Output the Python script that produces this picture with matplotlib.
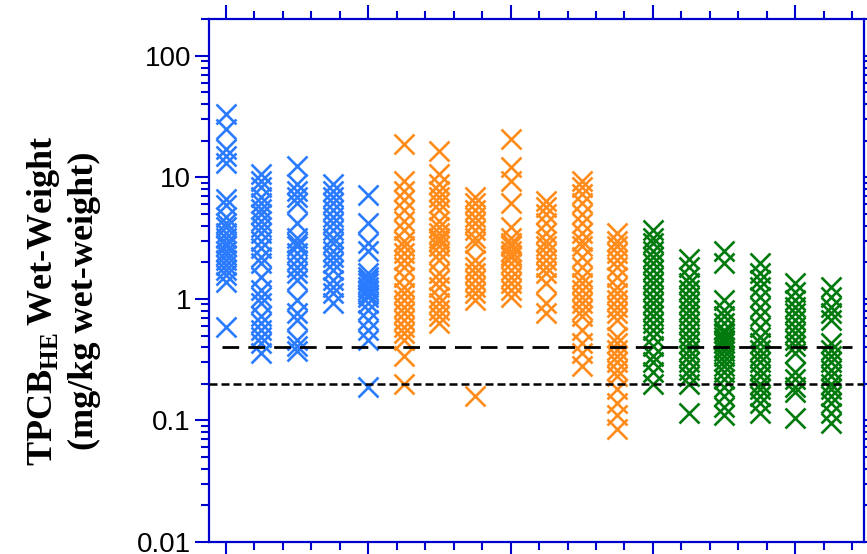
import numpy as np
import matplotlib
matplotlib.use("Agg")
import matplotlib.pyplot as plt
from matplotlib.ticker import FixedLocator, LogLocator, NullFormatter, FuncFormatter

plt.rcParams['font.family'] = 'Liberation Sans'
plt.rcParams['mathtext.fontset'] = 'custom'
plt.rcParams['mathtext.rm'] = 'Liberation Serif:bold'
plt.rcParams['mathtext.bf'] = 'Liberation Serif:bold'

# values, one list per sampling group (x = 1..18)
blue_groups = [
    [33.5, 25, 17, 15, 13.2, 6.7, 5.9, 4.7, 4.2, 3.9, 3.5, 3.2, 2.9, 2.7, 2.5,
     2.3, 2.1, 1.9, 1.73, 1.57, 1.38, 0.59],
    [10.7, 9.4, 8.3, 6.9, 6.1, 5.5, 5.0, 4.4, 3.9, 3.5, 3.0, 2.6, 2.2, 1.96,
     1.52, 1.19, 1.04, 0.92, 0.72, 0.63, 0.56, 0.49, 0.43, 0.36],
    [12.5, 8.9, 7.8, 6.9, 6.1, 4.2, 3.2, 2.9, 2.7, 2.4, 2.1, 1.84, 1.62, 1.43,
     0.98, 0.76, 0.67, 0.46, 0.41, 0.37],
    [8.9, 7.8, 6.9, 6.1, 5.4, 4.7, 4.2, 3.7, 3.2, 2.9, 2.5, 2.2, 1.96, 1.73,
     1.43, 1.26, 1.11, 0.92],
    [7.1, 4.2, 2.9, 2.5, 1.62, 1.52, 1.42, 1.34, 1.26, 1.19, 1.1, 1.04, 0.92,
     0.81, 0.67, 0.56, 0.46, 0.19],
]
orange_groups = [
    [18.9, 9.4, 7.8, 6.5, 5.4, 4.4, 3.7, 3.0, 2.7, 2.4, 2.1, 1.84, 1.52, 1.26,
     1.11, 0.98, 0.86, 0.76, 0.67, 0.59, 0.52, 0.46, 0.34, 0.20],
    [16.6, 10.7, 8.9, 7.8, 6.9, 6.1, 5.4, 4.4, 3.9, 3.5, 3.2, 3.0, 2.7, 2.4,
     2.1, 1.62, 1.43, 1.26, 1.04, 0.92, 0.81, 0.72, 0.63],
    [6.9, 6.1, 5.4, 4.7, 4.2, 3.7, 3.2, 2.9, 2.1, 1.84, 1.62, 1.43, 1.26, 1.11,
     0.98, 0.16],
    [20.8, 12.1, 9.4, 6.1, 3.9, 3.2, 2.9, 2.7, 2.5, 2.3, 2.2, 1.96, 1.73, 1.52,
     1.34, 1.19, 1.04],
    [6.4, 5.7, 5.0, 4.2, 3.5, 3.0, 2.7, 2.4, 2.1, 1.84, 1.62, 1.34, 0.92, 0.76],
    [9.4, 8.3, 7.3, 6.1, 5.0, 4.2, 3.5, 3.0, 2.7, 2.2, 1.84, 1.52, 1.34, 1.19,
     1.04, 0.92, 0.81, 0.72, 0.56, 0.43, 0.36, 0.28],
    [3.5, 3.0, 2.7, 2.4, 2.1, 1.84, 1.52, 1.26, 1.11, 0.98, 0.86, 0.76, 0.67,
     0.49, 0.43, 0.38, 0.34, 0.30, 0.26, 0.23, 0.18, 0.14, 0.11, 0.085],
]
green_groups = [
    [3.7, 3.2, 2.9, 2.5, 2.2, 1.96, 1.73, 1.52, 1.34, 1.19, 1.04, 0.92, 0.81,
     0.72, 0.63, 0.56, 0.49, 0.41, 0.34, 0.30, 0.25, 0.20],
    [2.15, 1.84, 1.52, 1.34, 1.19, 1.04, 0.92, 0.81, 0.72, 0.63, 0.56, 0.49,
     0.43, 0.38, 0.34, 0.30, 0.26, 0.23, 0.20, 0.116],
    [2.5, 1.96, 0.98, 0.81, 0.72, 0.63, 0.56, 0.52, 0.49, 0.46, 0.43, 0.40,
     0.37, 0.34, 0.31, 0.28, 0.25, 0.22, 0.19, 0.16, 0.13, 0.11],
    [1.96, 1.62, 1.43, 1.26, 1.04, 0.86, 0.72, 0.59, 0.49, 0.43, 0.38, 0.34,
     0.30, 0.26, 0.23, 0.20, 0.18, 0.16, 0.14, 0.116],
    [1.34, 1.15, 0.98, 0.86, 0.76, 0.67, 0.59, 0.52, 0.46, 0.41, 0.36, 0.25,
     0.22, 0.19, 0.17, 0.105],
    [1.26, 1.04, 0.86, 0.76, 0.67, 0.43, 0.38, 0.34, 0.30, 0.26, 0.23, 0.20,
     0.18, 0.16, 0.14, 0.116, 0.096],
]
level_high = 0.4
level_low = 0.2

colors = ['#2b7bff', '#ff8c1a', '#037a0e']
axis_blue = '#0000cc'

fig = plt.figure(figsize=(8.67, 5.54), dpi=100)
ax = fig.add_axes([0.2411, 0.0217, 0.7555, 0.9435])

pos = 1
for groups, col in zip([blue_groups, orange_groups, green_groups], colors):
    for vals in groups:
        ax.plot(np.full(len(vals), pos), vals, ls='none', marker='x',
                ms=14.5, mew=1.9, color=col, zorder=2)
        pos += 1

ax.plot([0.9, 18.6], [level_high, level_high], color='black', lw=2,
        dashes=(6, 3.3), zorder=3)
ax.axhline(level_low, color='black', lw=1.8, dashes=(3.2, 1.6), zorder=3)

ax.set_yscale('log')
ax.set_ylim(0.01, 200)
ax.set_xlim(0.53, 18.93)

ax.yaxis.set_major_locator(LogLocator(base=10, numticks=10))
ax.yaxis.set_minor_locator(LogLocator(base=10, subs=np.arange(2, 10), numticks=20))
ax.yaxis.set_major_formatter(FuncFormatter(lambda v, p: f'{v:g}'))
ax.yaxis.set_minor_formatter(NullFormatter())

ax.xaxis.set_major_locator(FixedLocator([1, 5, 9, 13, 17]))
ax.xaxis.set_minor_locator(FixedLocator(np.arange(1, 19, 0.8)))
ax.set_xticklabels([])

for s in ax.spines.values():
    s.set_color(axis_blue)
    s.set_linewidth(1.6)

ax.tick_params(which='both', direction='out', color=axis_blue, width=1.5,
               top=True, right=True, labelsize=20, labelcolor='black', pad=3)
ax.tick_params(which='major', length=10)
ax.tick_params(which='minor', length=6)

fig.text(0.073, 0.458, 'TPCB$_{\\mathrm{HE}}\\,$Wet-Weight\n(mg/kg wet-weight)',
         rotation=90, ha='center', va='center', multialignment='center',
         family='Liberation Serif', weight='bold', fontsize=26, linespacing=1.25)

fig.savefig('out.png', dpi=100)
